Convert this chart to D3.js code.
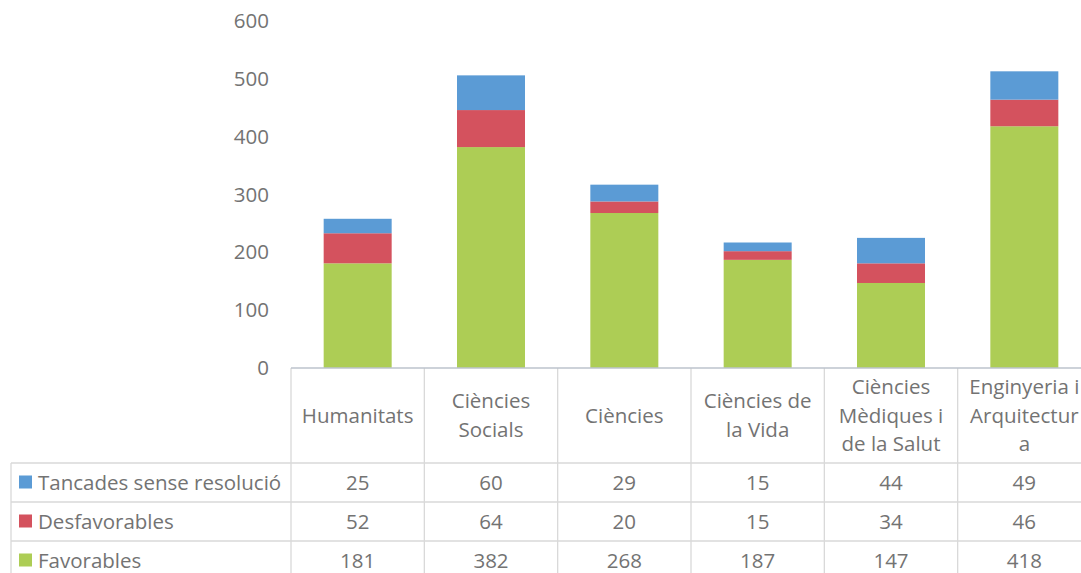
<!DOCTYPE html>
<html>
<head>
<meta charset="utf-8">
<script src="https://cdn.jsdelivr.net/npm/d3@7"></script>
<style>
	body { margin: 0; background: #fff; }
	svg { display: block; font-family: "Open Sans", sans-serif; }
</style>
</head>
<body>
<div id="chart"></div>
<script>
// Chart data
const categories = ["Humanitats", "Ciències Socials", "Ciències", "Ciències de la Vida", "Ciències Mèdiques i de la Salut", "Enginyeria i Arquitectura"];
const categoryLines = [["Humanitats"], ["Ciències", "Socials"], ["Ciències"], ["Ciències de", "la Vida"], ["Ciències", "Mèdiques i", "de la Salut"], ["Enginyeria i", "Arquitectur", "a"]];
const seriesNames = ["Favorables", "Desfavorables", "Tancades sense resolució"];
const favorables = [181, 382, 268, 187, 147, 418];
const desfavorables = [52, 64, 20, 15, 34, 46];
const tancades = [25, 60, 29, 15, 44, 49];
const yTicks = [0, 100, 200, 300, 400, 500, 600];
const colors = ["#adcd55", "#d4525e", "#5b9bd5"];

const width = 1081, height = 573;
const plotLeft = 291, plotRight = 1091, plotTop = 21, plotBottom = 368;
const tableLeft = 11;
const headerBottom = 463, rowH = 39;
const textColor = "#737373", lineColor = "#d9d9d9";
const fontSize = "20.5px";

const svg = d3.select("#chart").append("svg")
	.attr("width", width)
	.attr("height", height);

const rows = categories.map((c, i) => ({
	cat: c,
	Favorables: favorables[i],
	Desfavorables: desfavorables[i],
	"Tancades sense resolució": tancades[i]
}));

const stack = d3.stack().keys(seriesNames)(rows);

const x = d3.scaleBand()
	.domain(categories)
	.range([plotLeft, plotRight])
	.paddingInner(0)
	.paddingOuter(0);

const y = d3.scaleLinear().domain([0, 600]).range([plotBottom, plotTop]);

// y axis labels
const yAxis = svg.append("g")
	.attr("transform", `translate(${plotLeft - 22},0)`)
	.call(d3.axisLeft(y).tickValues(yTicks).tickSize(0).tickPadding(0));
yAxis.select(".domain").remove();
yAxis.selectAll("text")
	.attr("fill", textColor)
	.style("font-size", fontSize)
	.style("font-family", "'Open Sans', sans-serif");

// bars
const barW = 68;
svg.append("g").selectAll("g")
	.data(stack)
	.join("g")
	.attr("fill", (d, i) => colors[i])
	.selectAll("rect")
	.data(d => d)
	.join("rect")
	.attr("x", d => x(d.data.cat) + x.bandwidth() / 2 - barW / 2)
	.attr("width", barW)
	.attr("y", d => y(d[1]))
	.attr("height", d => y(d[0]) - y(d[1]));

// data table
const table = svg.append("g");
const tableRows = [tancades, desfavorables, favorables];
const tableNames = ["Tancades sense resolució", "Desfavorables", "Favorables"];
const tableColors = [colors[2], colors[1], colors[0]];

// vertical lines
const vx = categories.map(c => x(c)).concat([plotRight]);
vx.forEach(xx => {
	table.append("line")
		.attr("x1", xx).attr("x2", xx)
		.attr("y1", plotBottom).attr("y2", height + 20)
		.attr("stroke", lineColor).attr("stroke-width", 1.3);
});
table.append("line")
	.attr("x1", tableLeft).attr("x2", tableLeft)
	.attr("y1", headerBottom).attr("y2", height + 20)
	.attr("stroke", lineColor).attr("stroke-width", 1.3);

// horizontal lines
[0, 1, 2, 3].forEach(r => {
	const yy = headerBottom + r * rowH;
	table.append("line")
		.attr("x1", tableLeft).attr("x2", plotRight)
		.attr("y1", yy).attr("y2", yy)
		.attr("stroke", lineColor).attr("stroke-width", 1.3);
});

// category axis line
svg.append("line")
	.attr("x1", plotLeft).attr("x2", plotRight)
	.attr("y1", plotBottom).attr("y2", plotBottom)
	.attr("stroke", "#bcc3cc").attr("stroke-width", 1.5);

// header labels
const headerMid = (plotBottom + headerBottom) / 2;
const lineH = 28.5;
categoryLines.forEach((lines, i) => {
	const cx = x(categories[i]) + x.bandwidth() / 2;
	const t = table.append("text")
		.attr("text-anchor", "middle")
		.attr("fill", textColor)
		.style("font-size", fontSize);
	lines.forEach((ln, j) => {
		t.append("tspan")
			.attr("x", cx)
			.attr("y", headerMid + (j - (lines.length - 1) / 2) * lineH)
			.attr("dy", "0.35em")
			.text(ln);
	});
});

// rows
tableRows.forEach((vals, r) => {
	const cy = headerBottom + r * rowH + rowH / 2;
	table.append("rect")
		.attr("x", 19).attr("y", cy - 7)
		.attr("width", 13).attr("height", 13)
		.attr("fill", tableColors[r]);
	table.append("text")
		.attr("x", 38).attr("y", cy)
		.attr("dy", "0.35em")
		.attr("fill", textColor)
		.style("font-size", fontSize)
		.text(tableNames[r]);
	vals.forEach((v, i) => {
		table.append("text")
			.attr("x", x(categories[i]) + x.bandwidth() / 2)
			.attr("y", cy)
			.attr("dy", "0.35em")
			.attr("text-anchor", "middle")
			.attr("fill", textColor)
			.style("font-size", fontSize)
			.text(v);
	});
});
</script>
</body>
</html>
